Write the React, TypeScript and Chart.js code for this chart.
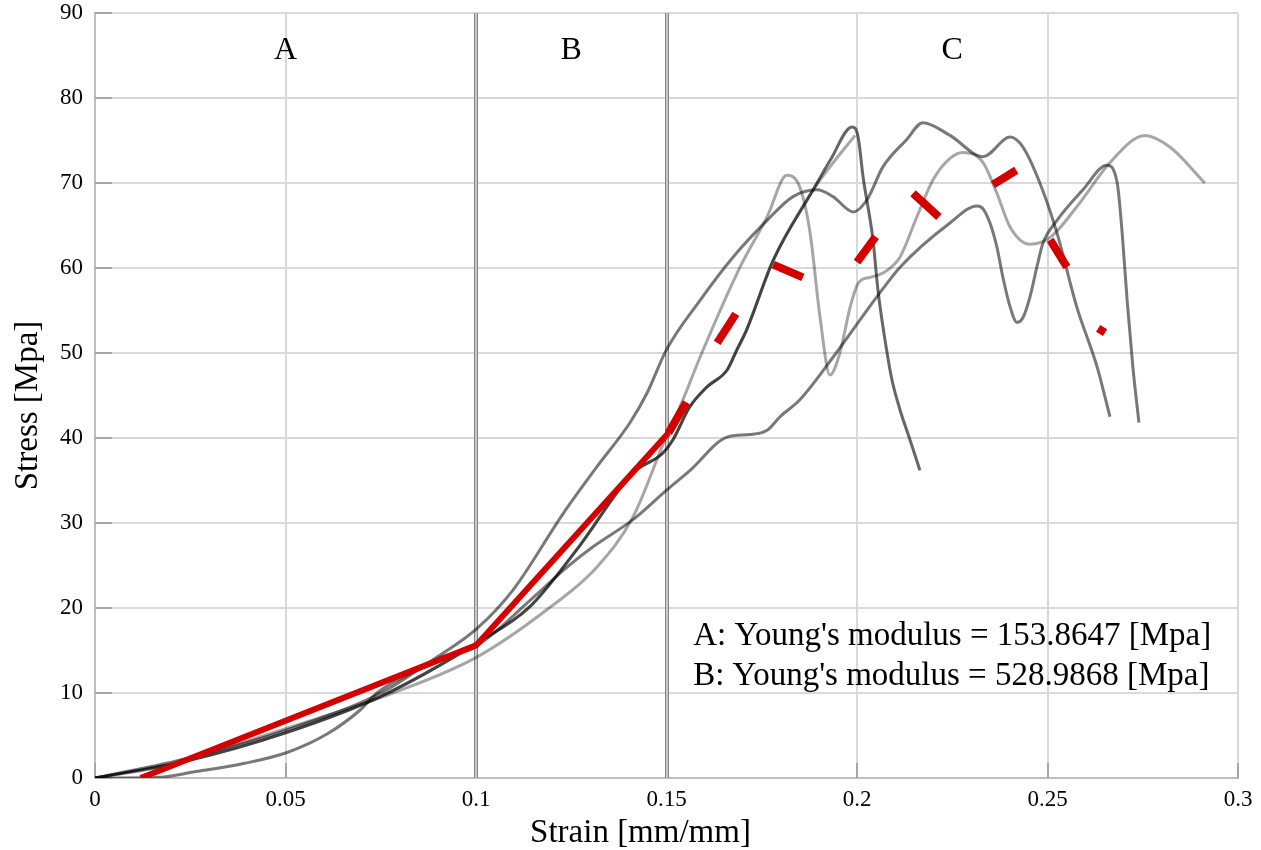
import React, { useEffect, useRef } from 'react';
import { Chart, registerables } from 'chart.js';

Chart.register(...registerables);

// ---- axis ticks ----
const xTickValues = [0, 0.05, 0.1, 0.15, 0.2, 0.25, 0.3];
const xTickLabels = ['0', '0.05', '0.1', '0.15', '0.2', '0.25', '0.3'];
const yTickValues = [0, 10, 20, 30, 40, 50, 60, 70, 80, 90];
const yTickLabels = ['0', '10', '20', '30', '40', '50', '60', '70', '80', '90'];

// ---- specimen curves (strain [mm/mm], stress [MPa]) ----
const m1Strain = [0, 0.025, 0.05, 0.075, 0.0887, 0.1003, 0.1097, 0.123, 0.1317, 0.1404, 0.1449, 0.150, 0.1588, 0.1675, 0.1764, 0.1832, 0.1895, 0.1937, 0.199, 0.2026, 0.2068, 0.213, 0.2173, 0.2244, 0.2331, 0.2402, 0.2436, 0.248, 0.2525, 0.2577, 0.263, 0.2664];
const m1Stress = [0, 2.4, 5.6, 10.0, 13.9, 17.6, 22.1, 31.2, 36.6, 41.8, 45.3, 50.4, 56.2, 61.3, 65.6, 68.4, 69.2, 68.4, 66.6, 68.0, 71.9, 75.1, 77.1, 75.6, 73.1, 75.4, 74.2, 70.0, 64.1, 55.4, 48.4, 42.5];

const m2Strain = [0, 0.017, 0.0258, 0.039, 0.0504, 0.061, 0.0696, 0.074, 0.0827, 0.0913, 0.0997, 0.1142, 0.1239, 0.1307, 0.1412, 0.1501, 0.1562, 0.1659, 0.1719, 0.1764, 0.1798, 0.185, 0.1937, 0.2052, 0.2113, 0.2244, 0.2315, 0.233, 0.2349, 0.2367, 0.2383, 0.2402, 0.242, 0.2436, 0.2454, 0.2472, 0.2488, 0.2525, 0.2593, 0.2656, 0.2683, 0.2696, 0.2709, 0.2724, 0.274];
const m2Stress = [0, 0.1, 0.7, 1.7, 3.0, 5.2, 8.0, 10.0, 12.3, 14.3, 15.4, 20.9, 24.8, 27.2, 30.4, 33.9, 36.2, 40.1, 40.4, 40.9, 42.5, 44.5, 49.5, 56.6, 60.1, 65.3, 67.3, 67.0, 65.3, 62.5, 58.9, 55.4, 53.6, 54.2, 56.6, 60.1, 62.9, 65.6, 69.2, 72.1, 70.0, 64.1, 56.2, 48.4, 41.8];

const m3Strain = [0, 0.025, 0.05, 0.075, 0.1003, 0.114, 0.127, 0.1412, 0.149, 0.1517, 0.156, 0.1606, 0.1659, 0.1685, 0.171, 0.178, 0.1885, 0.193, 0.1987, 0.2003, 0.2016, 0.2042, 0.2055, 0.2079, 0.2092, 0.2113, 0.2139, 0.2165];
const m3Stress = [0, 2.1, 5.3, 9.6, 15.9, 20.1, 27.2, 35.9, 38.2, 39.8, 43.6, 46.0, 48.0, 50.4, 52.7, 60.9, 69.2, 72.7, 76.6, 75.4, 70.7, 63.3, 57.4, 50.0, 46.8, 43.3, 39.8, 36.2];

const l1Strain = [0, 0.017, 0.025, 0.05, 0.0782, 0.0997, 0.1186, 0.1317, 0.1412, 0.1496, 0.1543, 0.1588, 0.1693, 0.1764, 0.1816, 0.185, 0.1877, 0.1903, 0.1929, 0.1955, 0.1982, 0.2003, 0.2034, 0.2068, 0.2113, 0.2157, 0.22, 0.2244, 0.2278, 0.2331, 0.2367, 0.2402, 0.2454, 0.2507, 0.2577, 0.2664, 0.2756, 0.2822, 0.2913];
const l1Stress = [0, 1.3, 2.3, 5.8, 10.0, 14.1, 19.8, 24.8, 30.7, 39.8, 44.5, 49.5, 60.1, 66.0, 70.9, 69.5, 64.1, 54.2, 47.4, 50.0, 55.4, 58.2, 58.9, 59.4, 61.3, 66.0, 70.4, 72.9, 73.6, 72.4, 68.8, 64.8, 62.8, 63.6, 67.2, 72.4, 75.6, 74.2, 70.0];

const l2Strain = [0, 0.025, 0.05, 0.075, 0.1003, 0.114, 0.127, 0.1412, 0.149, 0.1517, 0.156, 0.1606, 0.1659, 0.1685, 0.171, 0.178, 0.1885, 0.1929, 0.1995];
const l2Stress = [0, 2.1, 5.3, 9.6, 15.9, 20.1, 27.2, 35.9, 38.2, 39.8, 43.6, 46.0, 48.0, 50.4, 52.7, 60.9, 69.2, 71.9, 75.6];

// ---- red fit lines (regions A and B) ----
const fitStrain = [0.012, 0.1, 0.1505];
const fitStress = [0, 15.6, 40.6];

// ---- red mean curve in region C (dash start / end pairs) ----
const meanStrain = [0.1505, 0.1552, 0.1633, 0.1682, 0.178, 0.1858, 0.2, 0.2049, 0.2147, 0.2215, 0.2357, 0.2418, 0.2507, 0.2551, 0.2633, 0.2651];
const meanStress = [40.6, 44.2, 51.2, 54.6, 60.4, 58.9, 60.7, 63.7, 68.8, 66.0, 69.8, 71.5, 63.3, 60.1, 52.9, 52.4];

// ---- annotations ----
const regionBounds = [0, 0.1, 0.15, 0.3];
const regionNames = ['A', 'B', 'C'];
const modulusLines = ["A: Young's modulus = 153.8647 [Mpa]", "B: Young's modulus = 528.9868 [Mpa]"];
const xTitle = 'Strain [mm/mm]';
const yTitle = 'Stress [Mpa]';

const pts = (xs: number[], ys: number[]) => xs.map((x, i) => ({ x, y: ys[i] }));

const RED = '#d40000';
const SERIF = '"Liberation Serif", "Times New Roman", serif';

const overlayPlugin = {
  id: 'overlay',
  beforeDatasetsDraw(chart: any) {
    const { ctx, chartArea: a, scales } = chart;
    const xs = scales.x;
    const ys = scales.y;
    ctx.save();
    // inner tick marks
    ctx.strokeStyle = '#a6a6a6';
    ctx.lineWidth = 2;
    yTickValues.forEach((v) => {
      const py = Math.round(ys.getPixelForValue(v));
      ctx.beginPath();
      ctx.moveTo(a.left, py);
      ctx.lineTo(a.left + 17, py);
      ctx.stroke();
    });
    xTickValues.forEach((v) => {
      const px = Math.round(xs.getPixelForValue(v));
      ctx.beginPath();
      ctx.moveTo(px, a.bottom);
      ctx.lineTo(px, a.bottom - 15);
      ctx.stroke();
    });
    // region boundaries (double lines)
    regionBounds.slice(1, -1).forEach((b) => {
      const px = Math.round(xs.getPixelForValue(b));
      ctx.fillStyle = '#c8c8c8';
      ctx.fillRect(px - 2, a.top, 4, a.bottom - a.top);
      ctx.fillStyle = '#858585';
      ctx.fillRect(px - 2, a.top, 1, a.bottom - a.top);
      ctx.fillRect(px + 1, a.top, 1, a.bottom - a.top);
    });
    ctx.restore();
  },
  afterDatasetsDraw(chart: any) {
    const { ctx, chartArea: a, scales } = chart;
    const xs = scales.x;
    const ys = scales.y;
    ctx.save();
    ctx.fillStyle = '#000';
    // region labels
    ctx.font = `32px ${SERIF}`;
    ctx.textAlign = 'center';
    ctx.textBaseline = 'middle';
    regionNames.forEach((n, i) => {
      const cx = xs.getPixelForValue((regionBounds[i] + regionBounds[i + 1]) / 2);
      ctx.fillText(n, cx, ys.getPixelForValue(85.6));
    });
    // modulus text
    ctx.font = `33px ${SERIF}`;
    ctx.textAlign = 'left';
    ctx.textBaseline = 'alphabetic';
    const tx = xs.getPixelForValue(0.157);
    const baseY = ys.getPixelForValue(15.65);
    modulusLines.forEach((t, i) => {
      ctx.fillText(t, tx, baseY + i * 40);
    });
    // axis titles
    ctx.font = `33px ${SERIF}`;
    ctx.textAlign = 'center';
    ctx.fillText(xTitle, (a.left + a.right) / 2 - 26, chart.height - 8);
    ctx.translate(37, (a.top + a.bottom) / 2 + 10);
    ctx.rotate(-Math.PI / 2);
    ctx.fillText(yTitle, 0, 0);
    ctx.restore();
  },
};

export default function App() {
  const canvasRef = useRef<HTMLCanvasElement | null>(null);

  useEffect(() => {
    const canvas = canvasRef.current;
    if (!canvas) return;
    const gray = (alpha: number) => `rgba(0,0,0,${alpha})`;
    const curve = (xs: number[], ys: number[], alpha: number) => ({
      data: pts(xs, ys),
      borderColor: gray(alpha),
      borderWidth: 3,
      pointRadius: 0,
      fill: false,
      cubicInterpolationMode: 'monotone' as const,
    });
    const chart = new Chart(canvas, {
      type: 'line',
      data: {
        datasets: [
          {
            data: pts(meanStrain, meanStress),
            borderColor: RED,
            borderWidth: 8,
            borderCapStyle: 'butt',
            pointRadius: 0,
            fill: false,
            tension: 0,
            segment: {
              borderColor: (c: any) => (c.p0DataIndex % 2 === 0 ? RED : 'rgba(0,0,0,0)'),
            },
          } as any,
          {
            data: pts(fitStrain, fitStress),
            borderColor: RED,
            borderWidth: 6,
            pointRadius: 0,
            fill: false,
            tension: 0,
          },
          curve(l2Strain, l2Stress, 0.35),
          curve(m3Strain, m3Stress, 0.6),
          curve(l1Strain, l1Stress, 0.35),
          curve(m2Strain, m2Stress, 0.53),
          curve(m1Strain, m1Stress, 0.53),
        ],
      },
      options: {
        responsive: false,
        devicePixelRatio: 1,
        animation: false,
        parsing: false as any,
        layout: { padding: { top: 13, right: 23, left: 0, bottom: 0 } },
        plugins: { legend: { display: false }, tooltip: { enabled: false } },
        scales: {
          x: {
            type: 'linear',
            min: 0,
            max: 0.3,
            afterBuildTicks: (s: any) => {
              s.ticks = xTickValues.map((v) => ({ value: v }));
            },
            afterFit: (s: any) => {
              s.height = 72;
              s.paddingLeft = 0;
              s.paddingRight = 0;
            },
            grid: { color: '#d9d9d9', lineWidth: 2, drawTicks: false },
            border: { color: '#bfbfbf', width: 2 },
            ticks: {
              padding: 8,
              color: '#000',
              font: { family: SERIF, size: 23 },
              maxRotation: 0,
              callback: (_v: any, i: number) => xTickLabels[i],
            },
          },
          y: {
            type: 'linear',
            min: 0,
            max: 90,
            afterBuildTicks: (s: any) => {
              s.ticks = yTickValues.map((v) => ({ value: v }));
            },
            afterFit: (s: any) => {
              s.width = 95;
              s.paddingTop = 0;
              s.paddingBottom = 0;
            },
            grid: { color: '#d9d9d9', lineWidth: 2, drawTicks: false },
            border: { color: '#bfbfbf', width: 2 },
            ticks: {
              padding: 12,
              color: '#000',
              font: { family: SERIF, size: 23 },
              callback: (_v: any, i: number) => yTickLabels[i],
            },
          },
        },
      },
      plugins: [overlayPlugin],
    });
    return () => chart.destroy();
  }, []);

  return (
    <div style={{ position: 'fixed', left: 0, top: 0, width: 1261, height: 850, background: '#fff' }}>
      <canvas ref={canvasRef} width={1261} height={850} style={{ display: 'block' }} />
    </div>
  );
}
